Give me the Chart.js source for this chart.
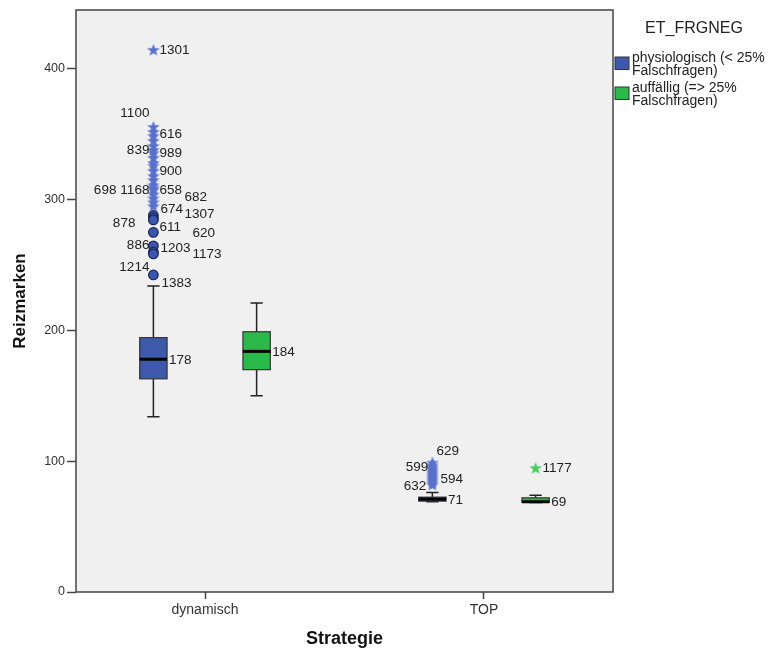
<!DOCTYPE html>
<html>
<head>
<meta charset="utf-8">
<script src="https://cdn.jsdelivr.net/npm/chart.js@4/dist/chart.umd.min.js"></script>
<style>
  html, body { margin: 0; padding: 0; background: #fff; }
  #wrap { width: 771px; height: 653px; }
</style>
</head>
<body>
<div id="wrap"><canvas id="boxChart" width="771" height="653"></canvas></div>
<script>
// categories on the x axis and the two groups (legend)
const categories = ['dynamisch', 'TOP'];
const groupNames = [['physiologisch (< 25%', 'Falschfragen)'], ['auffällig (=> 25%', 'Falschfragen)']];
const yTicks = [0, 100, 200, 300, 400];

// [lower whisker, Q1, median, Q3, upper whisker] per category
const physioBoxes = [[134, 163, 178, 194.5, 234], [69, 69.5, 71, 72.5, 76]];
const auffBoxes = [[150, 170, 184, 199, 221], [68.5, 68.5, 69, 72, 74]];

// extreme values (stars) and outliers (circles)
const physioStarsDyn = [414.5, 355.6, 351.8, 348.8, 345, 341, 338, 335.8, 332, 328, 326, 322, 318, 315, 311, 309, 307.5, 304, 301, 298, 295];
const physioCirclesDyn = [288, 286, 284.5, 275, 264.6, 260, 258.5, 242.4];
const physioStarsTop = [99, 97, 95.5, 94, 92.5, 91, 89.5, 88, 86.5, 85, 83.5, 82];
const auffStarsTop = [94.8];

// case labels: [id, category, group, value]
const caseLabels = [
  ['1301', 0, 0, 414.5], ['1100', 0, 0, 355.6], ['616', 0, 0, 348.8],
  ['839', 0, 0, 335.8], ['989', 0, 0, 335.8], ['900', 0, 0, 322],
  ['698', 0, 0, 307.5], ['1168', 0, 0, 307.5], ['658', 0, 0, 307.5],
  ['682', 0, 0, 304], ['674', 0, 0, 295], ['1307', 0, 0, 286],
  ['878', 0, 0, 284.5], ['611', 0, 0, 275], ['620', 0, 0, 275],
  ['886', 0, 0, 264.6], ['1203', 0, 0, 264.6], ['1173', 0, 0, 260],
  ['1214', 0, 0, 242.4], ['1383', 0, 0, 242.4],
  ['629', 1, 0, 99], ['599', 1, 0, 95.5], ['594', 1, 0, 86.5], ['632', 1, 0, 82],
  ['1177', 1, 1, 94.8]
];
// label placement in px relative to the point: [dx, dy, align]
const labelOffsets = [
  [6, 0, 'left'], [-4, -14, 'right'], [6, -2, 'left'],
  [-4, -3, 'right'], [6, 0, 'left'], [6, 0, 'left'],
  [-37, 0, 'right'], [-4, 0, 'right'], [6, 0, 'left'],
  [31, 3, 'left'], [7, 3, 'left'], [31, -4, 'left'],
  [-18, 3, 'right'], [6, -5, 'left'], [39, 1, 'left'],
  [-4, -1, 'right'], [7, 2, 'left'], [39, 2, 'left'],
  [-4, -8, 'right'], [8, 8, 'left'],
  [4, -11, 'left'], [-4, 0, 'right'], [8, 0, 'left'], [-6, 2, 'right'],
  [7, 0, 'left']
];

const groupColors = ['#3e58ac', '#2bb94b'];
const starColors = ['#5a71cb', '#45cf63'];
const groupOffset = [-0.185, 0.185];
const boxHalf = 0.049;
const capHalf = 0.022;
const FONT = "'Liberation Sans', Arial, sans-serif";

Chart.defaults.font.family = FONT;
Chart.defaults.color = '#333';

function xPos(cat, grp) { return cat + 1 + groupOffset[grp]; }
function pts(values, cat, grp) { return values.map(v => ({ x: xPos(cat, grp), y: v })); }

// small filled five-point star used as point style
function starMarker(color) {
  const c = document.createElement('canvas');
  c.width = 14; c.height = 14;
  const g = c.getContext('2d');
  g.fillStyle = color;
  g.beginPath();
  for (let i = 0; i < 10; i++) {
    const r = i % 2 === 0 ? 6.6 : 2.7;
    const a = -Math.PI / 2 + i * Math.PI / 5;
    g.lineTo(7 + r * Math.cos(a), 7.5 + r * Math.sin(a));
  }
  g.closePath();
  g.fill();
  return c;
}
const blueStar = starMarker(starColors[0]);
const greenStar = starMarker(starColors[1]);

const boxPlugin = {
  id: 'spssBoxes',
  beforeDraw(chart) {
    const { ctx, chartArea: a } = chart;
    ctx.save();
    ctx.fillStyle = '#f0f0f0';
    ctx.fillRect(a.left, a.top, a.right - a.left, a.bottom - a.top);
    ctx.restore();
  },
  beforeDatasetsDraw(chart) {
    const { ctx } = chart;
    const xs = chart.scales.x, ys = chart.scales.y;
    [physioBoxes, auffBoxes].forEach((boxes, g) => {
      boxes.forEach((b, c) => {
        const [lo, q1, med, q3, hi] = b;
        const p = xPos(c, g);
        const cx = xs.getPixelForValue(p);
        const l = xs.getPixelForValue(p - boxHalf), r = xs.getPixelForValue(p + boxHalf);
        const cl = xs.getPixelForValue(p - capHalf), cr = xs.getPixelForValue(p + capHalf);
        ctx.save();
        ctx.strokeStyle = '#222';
        ctx.lineWidth = 1.5;
        ctx.beginPath();
        ctx.moveTo(cx, ys.getPixelForValue(hi)); ctx.lineTo(cx, ys.getPixelForValue(q3));
        ctx.moveTo(cx, ys.getPixelForValue(q1)); ctx.lineTo(cx, ys.getPixelForValue(lo));
        ctx.moveTo(cl, ys.getPixelForValue(hi)); ctx.lineTo(cr, ys.getPixelForValue(hi));
        ctx.moveTo(cl, ys.getPixelForValue(lo)); ctx.lineTo(cr, ys.getPixelForValue(lo));
        ctx.stroke();
        const top = ys.getPixelForValue(q3), bot = ys.getPixelForValue(q1);
        ctx.fillStyle = groupColors[g];
        ctx.fillRect(l, top, r - l, bot - top);
        ctx.lineWidth = 1.2;
        ctx.strokeStyle = '#333';
        ctx.strokeRect(l, top, r - l, bot - top);
        ctx.strokeStyle = '#000';
        ctx.lineWidth = 3;
        ctx.beginPath();
        ctx.moveTo(l, ys.getPixelForValue(med)); ctx.lineTo(r, ys.getPixelForValue(med));
        ctx.stroke();
        // median value next to the box
        ctx.fillStyle = '#222';
        ctx.font = '13.5px ' + FONT;
        ctx.textBaseline = 'middle';
        ctx.textAlign = 'left';
        ctx.fillText(String(Math.round(med)), r + 2, ys.getPixelForValue(med) + 1);
        ctx.restore();
      });
    });
  },
  afterDatasetsDraw(chart) {
    const { ctx, chartArea: a } = chart;
    const xs = chart.scales.x, ys = chart.scales.y;
    ctx.save();
    ctx.fillStyle = '#222';
    ctx.font = '13.5px ' + FONT;
    ctx.textBaseline = 'middle';
    caseLabels.forEach((lab, i) => {
      const [id, c, g, v] = lab;
      const [dx, dy, align] = labelOffsets[i];
      ctx.textAlign = align;
      ctx.fillText(id, xs.getPixelForValue(xPos(c, g)) + dx, ys.getPixelForValue(v) + dy);
    });
    // plot frame
    ctx.strokeStyle = '#444';
    ctx.lineWidth = 1.5;
    ctx.strokeRect(a.left, a.top, a.right - a.left, a.bottom - a.top);
    // legend
    const lx = a.right + 2;
    ctx.fillStyle = '#222';
    ctx.textAlign = 'center';
    ctx.font = '16px ' + FONT;
    ctx.fillText('ET_FRGNEG', 694, 29);
    ctx.textAlign = 'left';
    ctx.font = '14px ' + FONT;
    groupNames.forEach((lines, g) => {
      const y0 = 57 + g * 30;
      ctx.fillStyle = groupColors[g];
      ctx.fillRect(lx, y0, 14, 12.5);
      ctx.strokeStyle = '#333';
      ctx.lineWidth = 1;
      ctx.strokeRect(lx, y0, 14, 12.5);
      ctx.fillStyle = '#222';
      lines.forEach((t, k) => ctx.fillText(t, lx + 17, y0 + 1.5 + k * 12.8));
    });
    ctx.restore();
  }
};

const ctx = document.getElementById('boxChart').getContext('2d');
new Chart(ctx, {
  type: 'scatter',
  data: {
    datasets: [
      {
        label: 'physio stars dyn',
        data: pts(physioStarsDyn, 0, 0),
        pointStyle: blueStar
      },
      {
        label: 'physio circles dyn',
        data: pts(physioCirclesDyn, 0, 0),
        pointStyle: 'circle', radius: 4.8, borderColor: '#1c2450', borderWidth: 1.2, backgroundColor: '#3b56b0'
      },
      {
        label: 'physio stars top',
        data: pts(physioStarsTop, 1, 0),
        pointStyle: blueStar
      },
      {
        label: 'auff stars top',
        data: pts(auffStarsTop, 1, 1),
        pointStyle: greenStar
      }
    ]
  },
  options: {
    responsive: false,
    animation: false,
    layout: { padding: { top: 10, right: 158, left: 0, bottom: 0 } },
    plugins: {
      legend: { display: false },
      tooltip: { enabled: false }
    },
    scales: {
      x: {
        type: 'linear',
        min: 0.5376,
        max: 2.4624,
        afterBuildTicks: scale => { scale.ticks = categories.map((_, i) => ({ value: i + 1 })); },
        afterFit: scale => { scale.height = 61; },
        ticks: {
          autoSkip: false,
          maxRotation: 0,
          padding: 3,
          color: '#333',
          font: { size: 14 },
          callback: v => categories[v - 1]
        },
        grid: { drawOnChartArea: false, tickLength: 7, tickColor: '#444', tickWidth: 1.5 },
        border: { display: false },
        title: { display: true, text: 'Strategie', color: '#111', font: { size: 18, weight: 'bold' }, padding: { top: 0, bottom: 3 } }
      },
      y: {
        min: 0,
        max: 445,
        afterBuildTicks: scale => { scale.ticks = yTicks.map(v => ({ value: v })); },
        afterFit: scale => { scale.width = 76; },
        ticks: { padding: 2, color: '#333', font: { size: 12.5 } },
        grid: { drawOnChartArea: false, tickLength: 9, tickColor: '#444', tickWidth: 1.5 },
        border: { display: false },
        title: { display: true, text: 'Reizmarken', color: '#111', font: { size: 17, weight: 'bold' }, padding: { top: 10, bottom: 0 } }
      }
    }
  },
  plugins: [boxPlugin]
});
</script>
</body>
</html>
